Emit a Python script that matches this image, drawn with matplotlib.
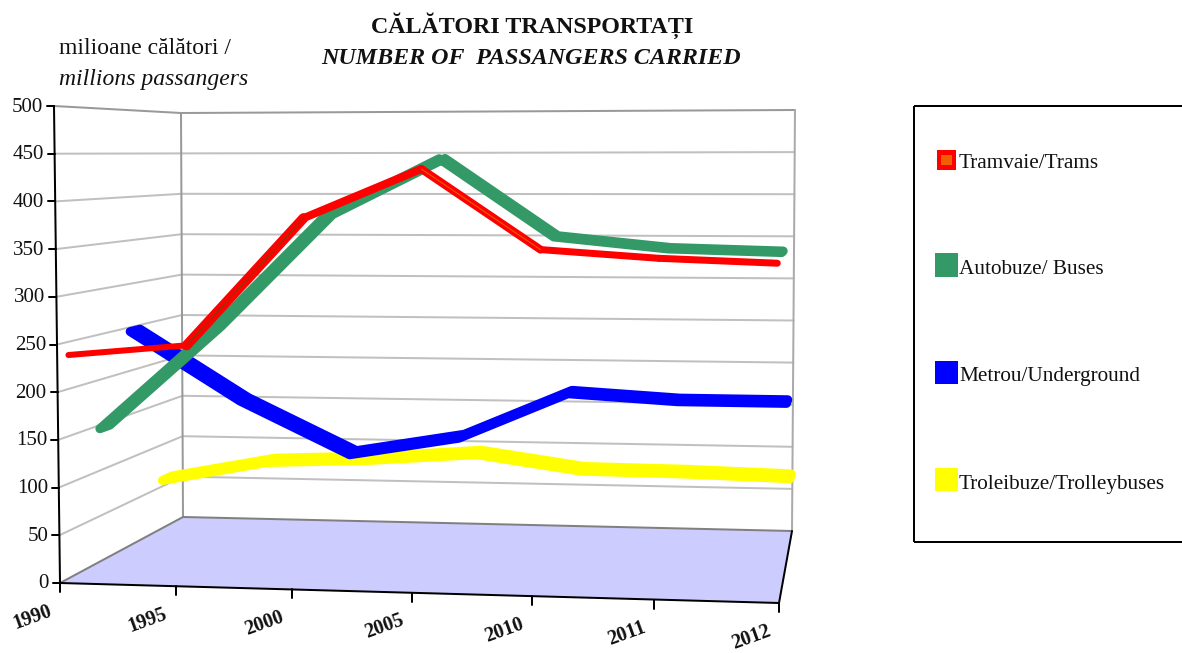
import numpy as np
import matplotlib
matplotlib.use('Agg')
import matplotlib.pyplot as plt
from matplotlib.patches import Polygon, Rectangle

plt.rcParams['font.family'] = ['Liberation Serif', 'DejaVu Serif']

years = ['1990', '1995', '2000', '2005', '2010', '2011', '2012']
yticks = [0, 50, 100, 150, 200, 250, 300, 350, 400, 450, 500]

trams = [236, 248, 383, 435, 352, 344, 340]
buses = [146, 258, 383, 445, 361, 349, 346]
underground = [245, 167, 108, 129, 181, 174, 174]
trolleybuses = [57, 81, 86, 95, 78, 77, 74]

legend_names = ['Tramvaie/Trams', 'Autobuze/ Buses', 'Metrou/Underground', 'Troleibuze/Trolleybuses']

# corners of the 3d box in pixels: (x index, value, depth)
fl0 = np.array([60, 583.0])
fr0 = np.array([779, 603.0])
bl0 = np.array([183, 517.0])
br0 = np.array([792, 531.0])
fl1 = np.array([54, 106.0])
fr1 = np.array([774, 106.0])
bl1 = np.array([181, 113.0])
br1 = np.array([795, 110.0])

# the front ticks are not quite evenly spaced in the original
tick_pos = [0, 0.968, 1.937, 2.94, 3.94, 4.96, 6]


def proj(i, v, d):
    a = i / 6
    b = v / 500
    low = (fl0 * (1 - a) + fr0 * a) * (1 - d) + (bl0 * (1 - a) + br0 * a) * d
    high = (fl1 * (1 - a) + fr1 * a) * (1 - d) + (bl1 * (1 - a) + br1 * a) * d
    return low * (1 - b) + high * b


def px(n):
    return n * 72 / 100


fig = plt.figure(figsize=(11.82, 6.53), dpi=100)
ax = fig.add_axes([0, 0, 1, 1])
ax.set_xlim(0, 1182)
ax.set_ylim(653, 0)
ax.axis('off')

# floor
floor = [proj(0, 0, 0), proj(6, 0, 0), proj(6, 0, 1), proj(0, 0, 1)]
ax.add_patch(Polygon(floor, closed=True, facecolor='#ccccff', edgecolor='none', zorder=1))


def seg(p, q, color, w, z=2):
    ax.plot([p[0], q[0]], [p[1], q[1]], color=color, lw=px(w), zorder=z, solid_capstyle='round')


# grid on the two walls
for v in yticks[1:-1]:
    seg(proj(0, v, 0), proj(0, v, 1), '#c0c0c0', 2)
    seg(proj(0, v, 1), proj(6, v, 1), '#c0c0c0', 2)
seg(proj(0, 500, 0), proj(0, 500, 1), '#999999', 2)
seg(proj(0, 500, 1), proj(6, 500, 1), '#999999', 2)
seg(proj(0, 0, 1), proj(0, 500, 1), '#999999', 2)
seg(proj(6, 0, 1), proj(6, 500, 1), '#aaaaaa', 2)
seg(proj(0, 0, 0), proj(0, 0, 1), '#808080', 2)
seg(proj(0, 0, 1), proj(6, 0, 1), '#808080', 2)

# axes
seg(proj(0, 0, 0), proj(0, 500, 0), 'black', 2, 8)
seg(proj(0, 0, 0), proj(6, 0, 0), 'black', 2, 8)
seg(proj(6, 0, 0), proj(6, 0, 1), 'black', 2, 8)
for v in yticks:
    p = proj(0, v, 0)
    seg(p, p + [-7, 0], 'black', 2, 8)
    ax.text(p[0] - 11, p[1] + 1, str(v), ha='right', va='center', fontsize=15, color='#111111')
for i, y in zip(tick_pos, years):
    p = proj(i, 0, 0)
    seg(p, p + [0, 9], 'black', 2, 8)
    ax.text(p[0] - 28, p[1] + 34, y, ha='center', va='center', rotation=20,
            fontsize=14.5, fontweight='bold', color='#111111')


def ribbon(values, d, color, z, band=0.08, w=9):
    front = np.array([proj(i, v, d - band / 2) for i, v in enumerate(values)])
    back = np.array([proj(i, v, d + band / 2) for i, v in enumerate(values)])
    pts = np.vstack([front, back[::-1]])
    ax.add_patch(Polygon(pts, closed=True, facecolor=color, edgecolor=color, lw=px(w),
                         joinstyle='round', zorder=z))


ribbon(trolleybuses, 7 / 8, '#ffff00', 3)
ribbon(underground, 5 / 8, '#0000ff', 4)
ribbon(buses, 3 / 8, '#339966', 5)

# the red line is thinner and changes width from segment to segment
red_widths = [6, 10, 8, 8, 7, 7]
red_pts = [proj(i, v, 0.09) for i, v in enumerate(trams)]
for k in range(6):
    seg(red_pts[k], red_pts[k + 1], '#ff0000', red_widths[k], 6)
seg(red_pts[1], red_pts[2], '#7a4000', 1, 7)
seg(red_pts[3], red_pts[4], '#e86000', 1, 7)

# titles
ax.text(532, 26, 'CĂLĂTORI TRANSPORTAȚI', ha='center', va='center', fontsize=17.3, fontweight='bold', color='#111111')
ax.text(531, 59, 'NUMBER OF  PASSANGERS CARRIED', ha='center', va='center', fontsize=17.3,
        fontweight='bold', fontstyle='italic', color='#111111')
ax.text(59, 49, 'milioane călători /', ha='left', va='center', fontsize=17, color='#111111')
ax.text(59, 79, 'millions passangers', ha='left', va='center', fontsize=17, fontstyle='italic', color='#111111')

# legend box, open on the right
for p, q in [((914, 106), (1182, 106)), ((914, 106), (914, 542)), ((914, 542), (1182, 542))]:
    ax.plot([p[0], q[0]], [p[1], q[1]], color='black', lw=px(2), zorder=2, solid_capstyle='butt')

ax.add_patch(Rectangle((937, 150), 19, 20, facecolor='#ff0000', edgecolor='none'))
ax.add_patch(Rectangle((941, 155), 11, 10, facecolor='#f06000', edgecolor='none'))
ax.add_patch(Rectangle((935, 253), 23, 24, facecolor='#339966', edgecolor='none'))
ax.add_patch(Rectangle((935, 361), 23, 23, facecolor='#0000ff', edgecolor='none'))
ax.add_patch(Rectangle((935, 468), 23, 23, facecolor='#ffff00', edgecolor='none'))
for name, y in zip(legend_names, [163, 270, 377, 484]):
    ax.text(959, y, name, ha='left', va='center', fontsize=15.3, color='#111111')

fig.savefig('out.png', dpi=100)
